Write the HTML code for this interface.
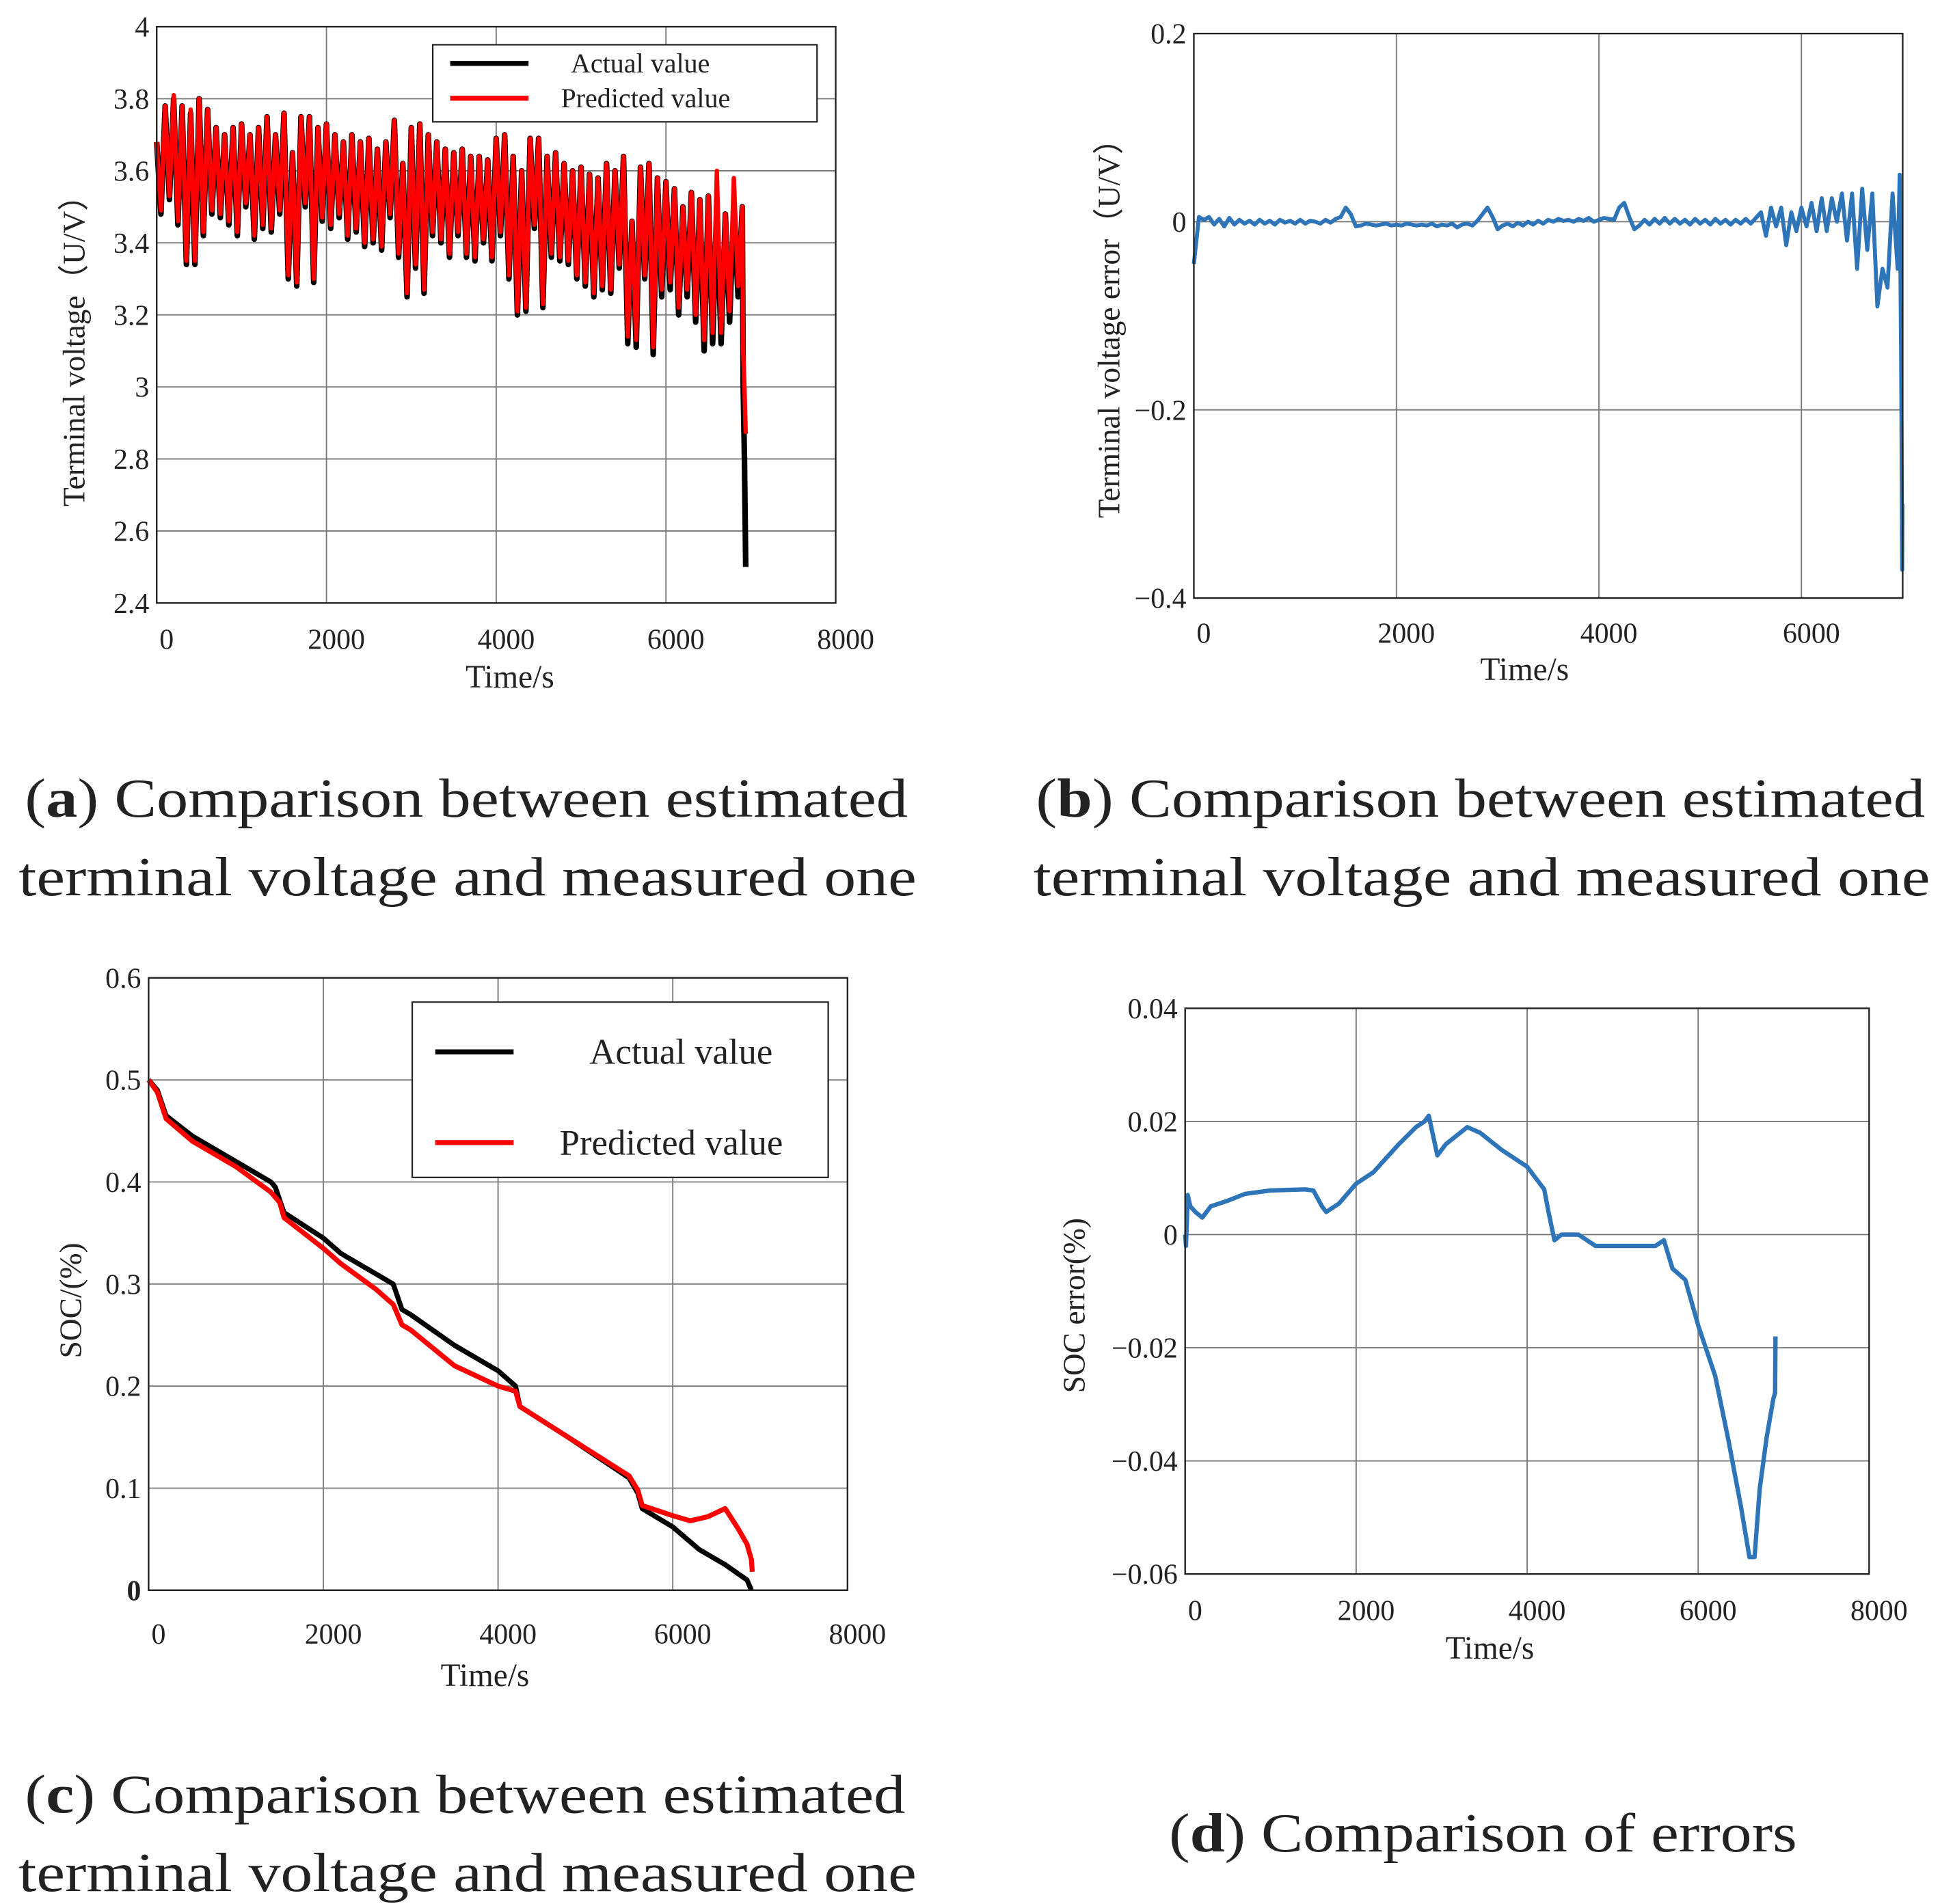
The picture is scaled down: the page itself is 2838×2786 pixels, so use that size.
<!DOCTYPE html>
<html><head><meta charset="utf-8">
<style>
html,body{margin:0;padding:0;background:#fff;}
svg{display:block;}
text{font-family:"Liberation Serif",serif;fill:#222;}
</style></head>
<body>
<svg id="fig" width="2838" height="2786" viewBox="0 0 1560 1531.4" preserveAspectRatio="none" xmlns="http://www.w3.org/2000/svg">
<rect x="0" y="0" width="1560" height="1531.4" fill="#fff"/>
<g font-size="44">
<text x="20" y="657" textLength="710" lengthAdjust="spacingAndGlyphs">(<tspan font-weight="bold">a</tspan>) Comparison between estimated</text>
<text x="15" y="720" textLength="722" lengthAdjust="spacingAndGlyphs">terminal voltage and measured one</text></g>
<g font-size="44">
<text x="833" y="657" textLength="715" lengthAdjust="spacingAndGlyphs">(<tspan font-weight="bold">b</tspan>) Comparison between estimated</text>
<text x="831" y="720" textLength="721" lengthAdjust="spacingAndGlyphs">terminal voltage and measured one</text></g>
<g font-size="44">
<text x="20" y="1458" textLength="708" lengthAdjust="spacingAndGlyphs">(<tspan font-weight="bold">c</tspan>) Comparison between estimated</text>
<text x="15" y="1521" textLength="722" lengthAdjust="spacingAndGlyphs">terminal voltage and measured one</text></g>
<g font-size="44">
<text x="940" y="1489" textLength="505" lengthAdjust="spacingAndGlyphs">(<tspan font-weight="bold">d</tspan>) Comparison of errors</text></g>
</svg>
<script>
// ---- Chart (a) data: terminal voltage, sampled every 50 s ----
const voltStep = 50;
const voltActual = [3.68,3.48,3.78,3.52,3.80,3.45,3.78,3.34,3.76,3.34,3.80,3.42,3.77,3.48,3.72,3.47,3.70,3.45,3.72,3.42,
3.73,3.50,3.70,3.41,3.72,3.44,3.75,3.43,3.70,3.48,3.76,3.30,3.65,3.28,3.75,3.50,3.75,3.29,3.72,3.46,
3.73,3.44,3.70,3.47,3.68,3.41,3.70,3.43,3.68,3.39,3.69,3.40,3.66,3.38,3.68,3.47,3.74,3.36,3.62,3.25,
3.72,3.33,3.73,3.26,3.70,3.42,3.68,3.40,3.66,3.36,3.65,3.42,3.66,3.36,3.64,3.35,3.64,3.40,3.63,3.35,
3.69,3.42,3.70,3.30,3.64,3.20,3.60,3.21,3.69,3.44,3.69,3.22,3.64,3.36,3.65,3.35,3.62,3.34,3.60,3.30,
3.61,3.28,3.59,3.25,3.58,3.27,3.62,3.26,3.60,3.33,3.64,3.12,3.46,3.11,3.61,3.30,3.62,3.09,3.58,3.25,
3.57,3.27,3.55,3.20,3.50,3.25,3.54,3.18,3.52,3.10,3.53,3.12,3.50,3.12,3.48,3.18,3.50,3.25,3.50];
const voltPred = [3.68,3.49,3.78,3.53,3.81,3.46,3.78,3.35,3.77,3.35,3.80,3.43,3.77,3.49,3.72,3.48,3.70,3.46,3.72,3.43,
3.73,3.51,3.70,3.42,3.72,3.45,3.75,3.44,3.70,3.49,3.76,3.31,3.65,3.29,3.75,3.51,3.75,3.30,3.72,3.47,
3.73,3.45,3.70,3.48,3.68,3.42,3.70,3.44,3.68,3.40,3.69,3.41,3.66,3.39,3.68,3.48,3.74,3.37,3.62,3.26,
3.72,3.34,3.73,3.27,3.70,3.43,3.68,3.41,3.66,3.37,3.65,3.43,3.66,3.37,3.64,3.36,3.64,3.41,3.63,3.36,
3.69,3.43,3.70,3.31,3.64,3.21,3.60,3.22,3.69,3.45,3.69,3.23,3.64,3.37,3.65,3.36,3.62,3.35,3.60,3.31,
3.61,3.29,3.59,3.26,3.58,3.28,3.62,3.27,3.60,3.34,3.64,3.14,3.46,3.13,3.61,3.31,3.62,3.11,3.58,3.27,
3.57,3.29,3.55,3.22,3.50,3.27,3.54,3.20,3.52,3.13,3.53,3.15,3.60,3.15,3.48,3.21,3.58,3.28,3.50];
const voltTailT = [6910,6925,6940];
const voltTailActual = [3.00,2.80,2.50];
const voltTailPred = [3.10,3.00,2.87];
const voltYTicks = [2.4,2.6,2.8,3,3.2,3.4,3.6,3.8,4];
const voltXTicks = [0,2000,4000,6000,8000];

// ---- Chart (b) data: terminal voltage error, every 50 s ----
const errStep = 50;
const voltErr = [-0.045,0.005,0.002,0.005,-0.003,0.003,-0.005,0.004,-0.003,0.002,-0.002,0.001,-0.003,0.002,-0.002,0.001,-0.003,0.002,-0.001,0.001,
-0.002,0.002,-0.002,0.001,0.0,-0.002,0.002,-0.001,0.003,0.005,0.015,0.008,-0.005,-0.004,-0.002,-0.003,-0.004,-0.003,-0.002,-0.004,
-0.003,-0.004,-0.002,-0.003,-0.004,-0.003,-0.004,-0.002,-0.005,-0.003,-0.004,-0.002,-0.006,-0.003,-0.002,-0.004,0.001,0.008,0.015,0.005,
-0.008,-0.004,-0.002,-0.005,-0.001,-0.004,0.0,-0.003,0.001,-0.002,0.002,0.0,0.003,0.001,0.002,0.0,0.003,0.001,0.004,0.0,
0.002,0.004,0.003,0.002,0.015,0.02,0.005,-0.008,-0.004,0.002,-0.003,0.003,-0.002,0.004,-0.002,0.003,-0.002,0.002,-0.003,0.003,
-0.002,0.002,-0.003,0.003,-0.002,0.002,-0.003,0.002,-0.002,0.003,-0.002,0.004,0.01,-0.015,0.015,-0.005,0.015,-0.025,0.01,-0.01,
0.015,-0.005,0.02,-0.01,0.025,-0.01,0.025,0.0,0.03,-0.02,0.03,-0.05,0.035,-0.03,0.03,-0.09,-0.05,-0.07,0.03,-0.05];
const errTailT = [6970,6985,6995,6998];
const errTailV = [0.05,-0.15,-0.37,-0.3];
const errYTicks = [-0.4,-0.2,0,0.2];
const errYLabels = ["\u22120.4","\u22120.2","0","0.2"];
const errXTicks = [0,2000,4000,6000];

// ---- Chart (c) data: SOC ----
const socActT = [0,100,200,500,1000,1400,1450,1550,2000,2200,2600,2800,2900,3000,3500,4000,4200,4250,4800,5500,5600,5650,6000,6300,6600,6850,6900];
const socActV = [0.50,0.49,0.465,0.445,0.42,0.40,0.395,0.37,0.345,0.33,0.31,0.30,0.275,0.27,0.24,0.215,0.20,0.18,0.15,0.11,0.095,0.08,0.062,0.04,0.025,0.01,0.0];
const socPredT = [0,100,200,500,1000,1400,1500,1550,2000,2200,2600,2800,2900,3000,3500,4000,4200,4250,4800,5500,5600,5650,6000,6200,6400,6600,6750,6850,6900,6910];
const socPredV = [0.50,0.488,0.462,0.44,0.415,0.39,0.38,0.365,0.335,0.32,0.295,0.28,0.26,0.255,0.22,0.20,0.195,0.18,0.15,0.112,0.098,0.083,0.073,0.068,0.072,0.08,0.06,0.045,0.03,0.018];
const socYTicks = [0,0.1,0.2,0.3,0.4,0.5,0.6];
const socXTicks = [0,2000,4000,6000,8000];

// ---- Chart (d) data: SOC error ----
const socErrT = [0,10,30,60,120,200,300,500,700,1000,1400,1500,1600,1650,1800,2000,2200,2500,2700,2800,2850,2950,3050,3300,3450,3700,4000,4100,4200,4250,4320,4400,4600,4800,5200,5500,5600,5700,5850,6000,6200,6350,6500,6600,6660,6720,6800,6880,6900,6905];
const socErrV = [0.0,-0.002,0.007,0.005,0.004,0.003,0.005,0.006,0.0072,0.0078,0.008,0.0078,0.005,0.004,0.0055,0.009,0.011,0.016,0.019,0.02,0.021,0.014,0.016,0.019,0.018,0.015,0.012,0.01,0.008,0.004,-0.001,0.0,0.0,-0.002,-0.002,-0.002,-0.001,-0.006,-0.008,-0.016,-0.025,-0.036,-0.048,-0.057,-0.057,-0.045,-0.036,-0.029,-0.028,-0.018];
const socErrYTicks = [-0.06,-0.04,-0.02,0,0.02,0.04];
const socErrYLabels = ["\u22120.06","\u22120.04","\u22120.02","0","0.02","0.04"];
const socErrXTicks = [0,2000,4000,6000,8000];

const NS = "http://www.w3.org/2000/svg";
const svg = document.getElementById('fig');
function mk(tag, attrs, parent){
  const e = document.createElementNS(NS, tag);
  for (const k in attrs) e.setAttribute(k, attrs[k]);
  parent.appendChild(e);
  return e;
}
function scale(d0,d1,r0,r1){ return v => r0 + (v-d0)/(d1-d0)*(r1-r0); }

function axes(g, box, xs, ys, xTicks, yTicks, yLabels, xLabelY, boldZero){
  mk('rect',{x:box.l,y:box.t,width:box.r-box.l,height:box.b-box.t,fill:'#fff'},g);
  xTicks.forEach(v=>{
    const x = xs(v);
    if (x>box.l+1 && x<box.r-1){
      const gl = mk('line',{x1:x,y1:box.t,x2:x,y2:box.b,stroke:'#777','stroke-width':1},g);
      
      
    }
    const t = mk('text',{x:x+8,y:xLabelY,'font-size':23,'text-anchor':'middle'},g);
    t.textContent = String(v);
    
    
  });
  yTicks.forEach((v,i)=>{
    const y = ys(v);
    if (y>box.t+1 && y<box.b-1){
      const gl = mk('line',{x1:box.l,y1:y,x2:box.r,y2:y,stroke:'#777','stroke-width':1},g);
      
      
    }
    const t = mk('text',{x:box.l-6,y:y+8,'font-size':23,'text-anchor':'end'},g);
    t.textContent = yLabels ? yLabels[i] : String(v);
    if (boldZero && v===0){ t.setAttribute('font-weight','bold'); }
    
    
  });
}
function frame(g, box){
  const f = mk('rect',{x:box.l,y:box.t,width:box.r-box.l,height:box.b-box.t,fill:'none',stroke:'#222','stroke-width':1.3},g);
  
  
}
function line(g, ts, vs, xs, ys, color, w, name){
  const pts = ts.map((t,i)=>xs(t).toFixed(2)+','+ys(vs[i]).toFixed(2)).join(' ');
  const p = mk('polyline',{points:pts,fill:'none',stroke:color,'stroke-width':w,'stroke-linejoin':'round'},g);
  
  
}
function titles(g, xt, yt){
  const a = mk('text',{x:xt.x,y:xt.y,'font-size':26,'text-anchor':'middle'},g);
  a.textContent = 'Time/s';
  
  
  const b = mk('text',{x:0,y:0,'font-size':yt.fs,'text-anchor':'middle',transform:`translate(${yt.x},${yt.y}) rotate(-90)`},g);
  b.textContent = yt.text;
  
  
}
function legend(g, lb, entries){
  const r = mk('rect',{x:lb.l,y:lb.t,width:lb.r-lb.l,height:lb.b-lb.t,fill:'#fff',stroke:'#222','stroke-width':1.2},g);
  
  
  entries.forEach(e=>{
    const l = mk('line',{x1:e.x1,y1:e.y,x2:e.x2,y2:e.y,stroke:e.c,'stroke-width':e.w},g);
    
    
    const t = mk('text',{x:e.tx,y:e.y+e.fs*0.33,'font-size':e.fs},g);
    t.textContent = e.label;
    
    
  });
}

// ---------- Chart A ----------
(function(){
  const g = mk('g',{},svg);
  
  
  const box = {l:126,r:672,t:21.5,b:485};
  const xs = scale(0,8000,box.l,box.r), ys = scale(2.4,4,box.b,box.t);
  axes(g, box, xs, ys, voltXTicks, voltYTicks, null, 522, false);
  const T = voltActual.map((_,i)=>i*voltStep);
  line(g, T.concat(voltTailT), voltActual.concat(voltTailActual), xs, ys, '#000', 4.5, 'actual-voltage-line');
  line(g, T.concat(voltTailT), voltPred.concat(voltTailPred), xs, ys, '#ff0000', 3.5, 'predicted-voltage-line');
  frame(g, box);
  legend(g, {l:348,r:657,t:36,b:98},[
    {x1:362,x2:425,y:51,c:'#000',w:4,tx:459,label:'Actual value',fs:22},
    {x1:362,x2:425,y:79,c:'#ff0000',w:4,tx:451,label:'Predicted value',fs:22}]);
  titles(g,{x:410,y:553},{x:68,y:276,fs:25,text:'Terminal voltage（U/V）'});
})();

// ---------- Chart B ----------
(function(){
  const g = mk('g',{},svg);
  
  
  const box = {l:960,r:1530,t:27,b:481};
  const xs = scale(0,7000,box.l,box.r), ys = scale(-0.4,0.2,box.b,box.t);
  axes(g, box, xs, ys, errXTicks, errYTicks, errYLabels, 517, false);
  const T = voltErr.map((_,i)=>i*errStep);
  line(g, T.concat(errTailT), voltErr.concat(errTailV), xs, ys, '#2e74b8', 3.2, 'voltage-error-line');
  frame(g, box);
  titles(g,{x:1226,y:547},{x:900,y:258,fs:25,text:'Terminal voltage error（U/V）'});
})();

// ---------- Chart C ----------
(function(){
  const g = mk('g',{},svg);
  
  
  const box = {l:119.5,r:681.5,t:786.5,b:1279};
  const xs = scale(0,8000,box.l,box.r), ys = scale(0,0.6,box.b,box.t);
  axes(g, box, xs, ys, socXTicks, socYTicks, null, 1322, true);
  line(g, socActT, socActV, xs, ys, '#000', 4, 'actual-soc-line');
  line(g, socPredT, socPredV, xs, ys, '#ff0000', 4, 'predicted-soc-line');
  frame(g, box);
  legend(g, {l:331.5,r:666,t:806,b:947},[
    {x1:350,x2:413,y:846,c:'#000',w:4,tx:474,label:'Actual value',fs:29},
    {x1:350,x2:413,y:919,c:'#ff0000',w:4,tx:450,label:'Predicted value',fs:29}]);
  titles(g,{x:390,y:1356},{x:65,y:1046,fs:25,text:'SOC/(%)'});
})();

// ---------- Chart D ----------
(function(){
  const g = mk('g',{},svg);
  
  
  const box = {l:953,r:1503,t:811,b:1266};
  const xs = scale(0,8000,box.l,box.r), ys = scale(-0.06,0.04,box.b,box.t);
  axes(g, box, xs, ys, socErrXTicks, socErrYTicks, socErrYLabels, 1303, false);
  line(g, socErrT, socErrV, xs, ys, '#2e74b8', 3.5, 'soc-error-line');
  frame(g, box);
  titles(g,{x:1198,y:1334},{x:872,y:1050,fs:25,text:'SOC error(%)'});
})();
</script>
</body></html>
